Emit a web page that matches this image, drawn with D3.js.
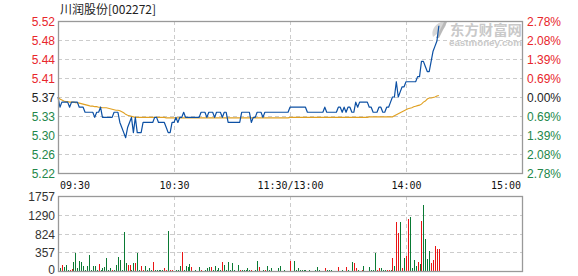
<!DOCTYPE html>
<html>
<head>
<meta charset="utf-8">
<script src="https://cdn.jsdelivr.net/npm/d3@7"></script>
<style>
  html, body { margin: 0; padding: 0; background: #fff; }
  svg { display: block; font-family: "Liberation Sans", Arial, sans-serif; }
</style>
</head>
<body>
<svg id="chart" width="578" height="276"></svg>
<script>
// ---- data ----
const stockName = "川润股份[002272]";
const prevClose = 5.37;
const rangePct = 0.0278;
const priceTickLabels = ["5.52", "5.48", "5.44", "5.41", "5.37", "5.33", "5.30", "5.26", "5.22"];
const pctTickLabels = ["2.78%", "2.08%", "1.39%", "0.69%", "0.00%", "0.69%", "1.39%", "2.08%", "2.78%"];
const timeLabels = ["09:30", "10:30", "11:30/13:00", "14:00", "15:00"];
const timeMinutes = [0, 60, 120, 180, 240];
const volTickLabels = ["1757", "1290", "824", "357", "0"];
const volMax = 1757;

// minute prices from 09:30
const prices = [
  5.37, 5.35, 5.36, 5.36, 5.36, 5.36, 5.35, 5.36, 5.36, 5.36,
  5.36, 5.35, 5.35, 5.35, 5.34, 5.34, 5.34, 5.34, 5.34, 5.33,
  5.34, 5.34, 5.35, 5.33, 5.33, 5.33, 5.33, 5.33, 5.33, 5.34,
  5.34, 5.34, 5.32, 5.31, 5.30, 5.29, 5.31, 5.32, 5.33, 5.30,
  5.33, 5.30, 5.30, 5.30, 5.32, 5.32, 5.32, 5.32, 5.32, 5.32,
  5.33, 5.33, 5.32, 5.32, 5.32, 5.32, 5.31, 5.30, 5.30, 5.32,
  5.32, 5.33, 5.32, 5.33, 5.33, 5.34, 5.33, 5.33, 5.33, 5.33,
  5.33, 5.33, 5.33, 5.33, 5.34, 5.34, 5.34, 5.33, 5.34, 5.34,
  5.34, 5.33, 5.34, 5.34, 5.34, 5.33, 5.34, 5.34, 5.32, 5.32,
  5.32, 5.32, 5.32, 5.32, 5.32, 5.34, 5.34, 5.34, 5.34, 5.34,
  5.32, 5.33, 5.33, 5.34, 5.34, 5.34, 5.33, 5.34, 5.34, 5.34,
  5.34, 5.34, 5.34, 5.34, 5.34, 5.34, 5.34, 5.34, 5.34, 5.34,
  5.35, 5.35, 5.35, 5.35, 5.35, 5.35, 5.35, 5.35, 5.35, 5.34,
  5.34, 5.34, 5.34, 5.34, 5.34, 5.34, 5.34, 5.34, 5.35, 5.34,
  5.34, 5.34, 5.34, 5.34, 5.34, 5.35, 5.35, 5.34, 5.35, 5.34,
  5.35, 5.35, 5.34, 5.34, 5.36, 5.35, 5.36, 5.36, 5.36, 5.36,
  5.36, 5.35, 5.35, 5.34, 5.34, 5.34, 5.35, 5.35, 5.34, 5.34,
  5.35, 5.35, 5.36, 5.37, 5.37, 5.40, 5.37, 5.38, 5.39, 5.39,
  5.40, 5.40, 5.40, 5.40, 5.40, 5.40, 5.41, 5.41, 5.44, 5.44,
  5.43, 5.42, 5.42, 5.44, 5.46, 5.47, 5.48, 5.51
];

// running average price
const avgPrices = [
  5.370, 5.366, 5.364, 5.362, 5.361, 5.361, 5.360, 5.360, 5.360, 5.359,
  5.359, 5.358, 5.357, 5.356, 5.355, 5.354, 5.353, 5.352, 5.352, 5.351,
  5.351, 5.350, 5.350, 5.349, 5.349, 5.349, 5.348, 5.347, 5.346, 5.345,
  5.344, 5.344, 5.343, 5.341, 5.339, 5.336, 5.334, 5.333, 5.332, 5.331,
  5.330, 5.330, 5.330, 5.330, 5.330, 5.330, 5.330, 5.330, 5.330, 5.330,
  5.330, 5.330, 5.330, 5.330, 5.330, 5.330, 5.329, 5.329, 5.329, 5.329,
  5.329, 5.329, 5.329, 5.329, 5.329, 5.329, 5.329, 5.329, 5.329, 5.329,
  5.329, 5.329, 5.329, 5.329, 5.329, 5.329, 5.329, 5.329, 5.329, 5.329,
  5.329, 5.329, 5.329, 5.329, 5.329, 5.329, 5.329, 5.329, 5.329, 5.329,
  5.329, 5.329, 5.329, 5.329, 5.329, 5.329, 5.329, 5.329, 5.329, 5.329,
  5.329, 5.329, 5.329, 5.329, 5.329, 5.329, 5.329, 5.329, 5.329, 5.329,
  5.329, 5.329, 5.329, 5.329, 5.329, 5.329, 5.329, 5.329, 5.329, 5.329,
  5.330, 5.330, 5.330, 5.330, 5.330, 5.330, 5.330, 5.330, 5.330, 5.330,
  5.330, 5.330, 5.330, 5.330, 5.330, 5.330, 5.330, 5.330, 5.330, 5.330,
  5.330, 5.330, 5.330, 5.330, 5.330, 5.330, 5.330, 5.330, 5.330, 5.330,
  5.330, 5.330, 5.330, 5.330, 5.330, 5.330, 5.330, 5.330, 5.330, 5.330,
  5.330, 5.331, 5.331, 5.331, 5.331, 5.331, 5.331, 5.331, 5.331, 5.331,
  5.331, 5.331, 5.331, 5.331, 5.333, 5.335, 5.337, 5.339, 5.341, 5.343,
  5.345, 5.347, 5.348, 5.349, 5.351, 5.352, 5.353, 5.354, 5.356, 5.360,
  5.362, 5.366, 5.368, 5.368, 5.369, 5.370, 5.372, 5.373
];

// minute volumes (lots)
const volumes = [
  40, 77, 134, 87, 134, 20, 25, 47, 218, 415,
  77, 241, 218, 117, 25, 117, 375, 25, 117, 117,
  15, 164, 25, 77, 94, 305, 20, 70, 20, 15,
  141, 321, 258, 25, 914, 194, 141, 141, 20, 187,
  187, 415, 15, 117, 25, 110, 25, 77, 25, 211,
  20, 25, 20, 15, 20, 70, 25, 937, 20, 20,
  10, 15, 25, 117, 452, 15, 117, 94, 164, 94,
  10, 20, 10, 94, 25, 10, 15, 70, 94, 94,
  15, 117, 15, 70, 25, 211, 141, 15, 211, 25,
  187, 15, 10, 141, 15, 15, 15, 25, 70, 15,
  15, 10, 15, 234, 94, 10, 25, 15, 117, 15,
  70, 10, 10, 10, 70, 117, 10, 15, 10, 10,
  234, 10, 234, 15, 70, 15, 15, 15, 15, 10,
  15, 10, 10, 15, 94, 25, 10, 10, 70, 15,
  15, 15, 10, 10, 10, 94, 10, 15, 10, 94,
  15, 10, 211, 187, 70, 25, 10, 15, 117, 10,
  10, 94, 25, 15, 422, 15, 70, 70, 25, 15,
  25, 15, 15, 305, 117, 1148, 890, 1148, 70, 305,
  351, 1218, 1265, 70, 258, 117, 211, 164, 1171, 1546,
  750, 281, 469, 187, 258, 586, 515, 515
];

// 1 = up minute (red), 0 = down minute (green)
const volumeUp = [
  1, 0, 1, 0, 0, 0, 1, 1, 0, 0,
  0, 0, 0, 0, 0, 0, 0, 0, 0, 0,
  0, 1, 0, 0, 0, 0, 0, 0, 1, 0,
  0, 0, 0, 0, 0, 0, 1, 1, 0, 0,
  1, 0, 0, 1, 1, 0, 0, 0, 0, 1,
  0, 0, 0, 0, 0, 1, 1, 0, 1, 1,
  0, 0, 0, 0, 1, 0, 0, 0, 0, 1,
  0, 0, 0, 0, 1, 0, 0, 0, 0, 1,
  0, 0, 0, 0, 0, 1, 0, 0, 0, 0,
  0, 0, 0, 0, 1, 0, 0, 0, 0, 0,
  1, 0, 0, 0, 1, 0, 0, 1, 0, 0,
  0, 0, 0, 0, 0, 0, 0, 0, 0, 0,
  1, 0, 0, 0, 0, 0, 0, 0, 0, 0,
  0, 0, 0, 0, 0, 0, 0, 0, 1, 0,
  0, 0, 0, 0, 0, 1, 0, 0, 0, 1,
  0, 0, 0, 1, 1, 0, 0, 1, 0, 0,
  0, 0, 0, 0, 0, 1, 1, 0, 0, 0,
  1, 1, 0, 1, 0, 1, 1, 0, 1, 0,
  1, 1, 0, 0, 0, 0, 1, 0, 1, 0,
  0, 0, 0, 1, 1, 1, 1, 1
];

// ---- layout ----
const left = 58, right = 522;
const mainTop = 21, mainBottom = 173;
const volTop = 196, volBottom = 271;

const RED = "#e8262b", GREEN = "#23874a", DARK = "#222";
const GRID = "#cccccc", FRAME = "#999999";
const BAR_RED = "#ea1414", BAR_GREEN = "#0a7a34";
const PRICE_BLUE = "#0c50a4", AVG_ORANGE = "#e0a021";

const svg = d3.select("#chart");

const x = d3.scaleLinear().domain([0, 240]).range([left, right]);
const y = d3.scaleLinear()
  .domain([prevClose * (1 - rangePct), prevClose * (1 + rangePct)])
  .range([mainBottom, mainTop]);
const yVol = d3.scaleLinear().domain([0, volMax]).range([volBottom, volTop]);
const volGrid = d3.scaleLinear().domain([0, volTickLabels.length - 1]).range([volTop, volBottom]);

const priceLevels = priceTickLabels.map((_, i) => prevClose * (1 + rangePct * (4 - i) / 4));
const tickColor = i => (i < 4 ? RED : i > 4 ? GREEN : DARK);

// title
svg.append("text")
  .attr("x", 60).attr("y", 14)
  .attr("font-family", "'Noto Sans CJK SC', sans-serif")
  .attr("font-size", 12).attr("fill", "#222")
  .text(stockName);

// ---- price panel ----
const main = svg.append("g");

// horizontal grid
main.selectAll("line.hgrid")
  .data(priceLevels.slice(1, -1))
  .join("line")
  .attr("x1", left).attr("x2", right)
  .attr("y1", d => Math.round(y(d)) + 0.5).attr("y2", d => Math.round(y(d)) + 0.5)
  .attr("stroke", GRID).attr("stroke-dasharray", "4,3");

// vertical grid
main.selectAll("line.vgrid")
  .data(timeMinutes.slice(1, -1))
  .join("line")
  .attr("x1", d => Math.round(x(d)) + 0.5).attr("x2", d => Math.round(x(d)) + 0.5)
  .attr("y1", mainTop).attr("y2", mainBottom)
  .attr("stroke", GRID).attr("stroke-dasharray", "4,3");

// watermark
const wm = main.append("g").attr("fill", "#c9c9c9");
wm.append("path")
  .attr("d", "M433,37 C431,31 434,25 441,22 C446,21 447,24 445,27 C442,31 438,33 433,37 Z")
  .attr("fill", "#d6d6d6");
wm.append("path")
  .attr("d", "M436,38 L444,22 L447,22 L439,38 Z")
  .attr("fill", "#b9b9b9");
wm.append("text")
  .attr("x", 450).attr("y", 35)
  .attr("font-family", "'Noto Sans CJK SC', sans-serif")
  .attr("font-weight", "bold").attr("font-size", 13.5)
  .attr("textLength", 72).attr("lengthAdjust", "spacingAndGlyphs")
  .text("东方财富网");
wm.append("text")
  .attr("x", 449).attr("y", 46)
  .attr("font-weight", "bold").attr("font-size", 8.5)
  .attr("textLength", 73).attr("lengthAdjust", "spacingAndGlyphs")
  .text("eastmoney.com");

// average line
main.append("path")
  .datum(avgPrices)
  .attr("fill", "none").attr("stroke", AVG_ORANGE).attr("stroke-width", 1.1)
  .attr("d", d3.line().x((d, i) => x(i)).y(d => y(d)));

// price line
main.append("path")
  .datum(prices)
  .attr("fill", "none").attr("stroke", PRICE_BLUE).attr("stroke-width", 1.2)
  .attr("stroke-linejoin", "round")
  .attr("d", d3.line().x((d, i) => x(i)).y(d => y(d)));

// frame
main.append("rect")
  .attr("x", left + 0.5).attr("y", mainTop + 0.5)
  .attr("width", right - left).attr("height", mainBottom - mainTop)
  .attr("fill", "none").attr("stroke", FRAME).attr("stroke-width", 1.3);

// left price labels
main.selectAll("text.pl")
  .data(priceLevels)
  .join("text")
  .attr("x", 55).attr("y", d => y(d) + 5)
  .attr("text-anchor", "end").attr("font-size", 12)
  .attr("fill", (d, i) => tickColor(i))
  .text((d, i) => priceTickLabels[i]);

// right percent labels
main.selectAll("text.pr")
  .data(priceLevels)
  .join("text")
  .attr("x", 527).attr("y", d => y(d) + 5)
  .attr("text-anchor", "start").attr("font-size", 12)
  .attr("fill", (d, i) => tickColor(i))
  .text((d, i) => pctTickLabels[i]);

// time labels
svg.selectAll("text.time")
  .data(timeMinutes)
  .join("text")
  .attr("x", (d, i) => i === 0 ? x(d) + 2 : i === timeMinutes.length - 1 ? x(d) - 1 : x(d) + 0.5)
  .attr("y", 189)
  .attr("text-anchor", (d, i) => i === 0 ? "start" : i === timeMinutes.length - 1 ? "end" : "middle")
  .attr("font-family", "'DejaVu Sans Mono', monospace")
  .attr("font-size", 10).attr("fill", "#111")
  .text((d, i) => timeLabels[i]);

// ---- volume panel ----
const vol = svg.append("g");

vol.selectAll("line.vh")
  .data(d3.range(1, volTickLabels.length - 1))
  .join("line")
  .attr("x1", left).attr("x2", right)
  .attr("y1", d => Math.round(volGrid(d)) + 0.5).attr("y2", d => Math.round(volGrid(d)) + 0.5)
  .attr("stroke", GRID).attr("stroke-dasharray", "4,3");

vol.selectAll("line.vv")
  .data(timeMinutes.slice(1, -1))
  .join("line")
  .attr("x1", d => Math.round(x(d)) + 0.5).attr("x2", d => Math.round(x(d)) + 0.5)
  .attr("y1", volTop).attr("y2", volBottom)
  .attr("stroke", GRID).attr("stroke-dasharray", "4,3");

vol.selectAll("rect.bar")
  .data(volumes)
  .join("rect")
  .attr("x", (d, i) => Math.round(x(i)))
  .attr("width", 1)
  .attr("y", d => yVol(d))
  .attr("height", d => volBottom - yVol(d))
  .attr("fill", (d, i) => volumeUp[i] ? BAR_RED : BAR_GREEN)
  .attr("shape-rendering", "crispEdges");

vol.append("rect")
  .attr("x", left + 0.5).attr("y", volTop + 0.5)
  .attr("width", right - left).attr("height", volBottom - volTop)
  .attr("fill", "none").attr("stroke", FRAME).attr("stroke-width", 1.3);

vol.selectAll("text.vl")
  .data(volTickLabels)
  .join("text")
  .attr("x", 55).attr("y", (d, i) => Math.min(volGrid(i) + 5, 274))
  .attr("text-anchor", "end").attr("font-size", 12).attr("fill", "#333")
  .text(d => d);
</script>
</body>
</html>
